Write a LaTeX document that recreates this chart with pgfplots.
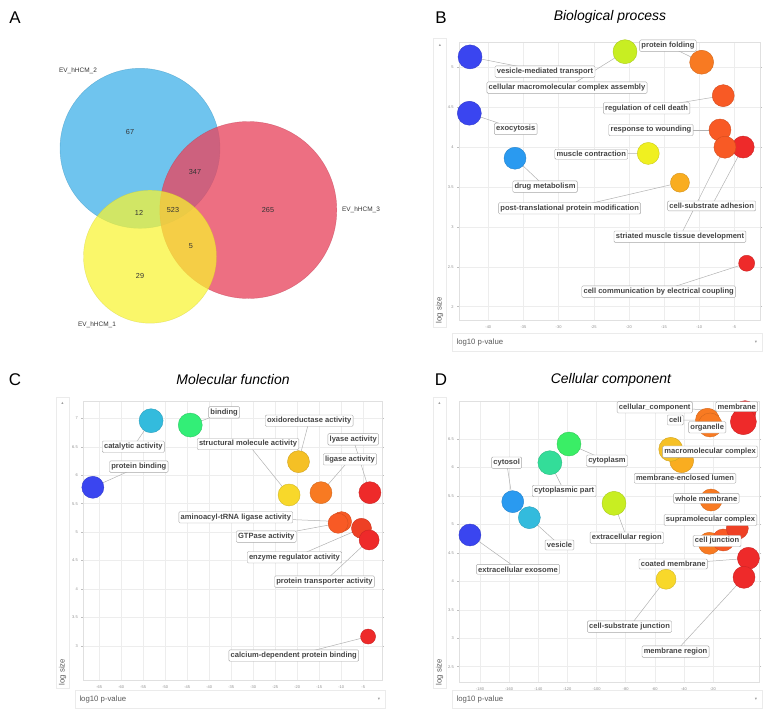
\documentclass[border=0pt]{standalone}
\usepackage{fontspec}
\setmainfont{Liberation Sans}
\newfontfamily\symfont{DejaVu Sans}
\usepackage{pgfplots}
\pgfplotsset{compat=1.18}

\definecolor{cblue}{HTML}{3A45F0}
\definecolor{clblue}{HTML}{2A9AF0}
\definecolor{ccyan}{HTML}{33BBDD}
\definecolor{cgreen}{HTML}{33EE77}
\definecolor{cgreen2}{HTML}{3AEE66}
\definecolor{cteal}{HTML}{33DD99}
\definecolor{cygreen}{HTML}{C8EE22}
\definecolor{cyellow}{HTML}{F0F020}
\definecolor{cyellow2}{HTML}{F8D82A}
\definecolor{cgold}{HTML}{F9AD20}
\definecolor{cgold2}{HTML}{F5C025}
\definecolor{corange}{HTML}{F87A22}
\definecolor{cored}{HTML}{F85A25}
\definecolor{cred}{HTML}{EE2A2A}
\definecolor{cred2}{HTML}{EE4025}
\definecolor{vblue}{HTML}{3FB0E8}
\definecolor{vred}{HTML}{E8465F}
\definecolor{vyellow}{HTML}{F8F430}

\tikzset{
  labbox/.style={fill=white, draw=black!35, rounded corners=1.2bp, inner xsep=1.8bp,
    inner ysep=2.2bp, line width=0.4bp, font=\fontsize{7.6}{8.5}\selectfont\bfseries,
    text=black!73},
  ptitle/.style={font=\fontsize{14}{14}\selectfont\itshape},
  pletter/.style={font=\fontsize{17}{17}\selectfont},
  vtext/.style={font=\fontsize{7.3}{7.5}\selectfont, text=black!80},
  side/.style={font=\fontsize{7.8}{8}\selectfont, text=black!65},
  arr/.style={font=\symfont\fontsize{4.5}{5}\selectfont, text=black!40},
}

\pgfplotsset{
  bubbleaxis/.style={
    scale only axis, anchor=north west, clip mode=individual,
    axis line style={draw=black!12},
    grid=major, major grid style={draw=black!7, line width=0.4bp},
    tick label style={font=\fontsize{4}{4}\selectfont, text=black!45},
    /pgf/number format/assume math mode=true,
    xtick style={draw=none},
    ytick style={draw=black!25, line width=0.4bp},
    tick align=outside, major tick length=2bp,
  },
  % second axis on the same box, only for the text boxes (drawn above the bubbles)
  overlay axis/.style={scale only axis, anchor=north west, hide axis, clip=false},
}

% bubble: x, y, radius (bp), colour
\newcommand{\bub}[4]{\addplot[only marks, mark=*, mark size=#3bp,
  mark options={fill=#4, draw=#4!85!black, line width=0.4bp}] coordinates {(#1,#2)};}
% leader line from bubble to label
\newcommand{\lead}[4]{\addplot[draw=black!30, line width=0.5bp, no marks] coordinates {(#1,#2) (#3,#4)};}
\newcommand{\lab}[3]{\node[labbox] at (axis cs:#1,#2) {#3};}

\begin{document}
\begin{tikzpicture}
\useasboundingbox (0,0) rectangle (766bp,-713bp);

% ---------------- A: Venn ----------------
\begin{axis}[at={(0bp,0bp)}, anchor=north west, scale only axis,
  width=383bp, height=360bp, hide axis, clip=false,
  xmin=0, xmax=383, ymin=0, ymax=360, y dir=reverse]
  \addplot[only marks, mark=*, mark size=80bp,
    mark options={fill=vblue, fill opacity=0.75, draw=vblue!80!black, draw opacity=0.5}]
    coordinates {(140,148.3)};
  \addplot[only marks, mark=*, mark size=88.5bp,
    mark options={fill=vred, fill opacity=0.78, draw=vred!80!black, draw opacity=0.5}]
    coordinates {(248.3,210)};
  \addplot[only marks, mark=*, mark size=66.5bp,
    mark options={fill=vyellow, fill opacity=0.72, draw=vyellow!80!black, draw opacity=0.4}]
    coordinates {(150,256.7)};
\end{axis}
\begin{axis}[overlay axis, at={(0bp,0bp)}, width=383bp, height=360bp,
  xmin=0, xmax=383, ymin=0, ymax=360, y dir=reverse]
  \node[vtext] at (axis cs:130,132) {67};
  \node[vtext] at (axis cs:195,172) {347};
  \node[vtext] at (axis cs:139,213) {12};
  \node[vtext] at (axis cs:173,210) {523};
  \node[vtext] at (axis cs:268,210) {265};
  \node[vtext] at (axis cs:191,246) {5};
  \node[vtext] at (axis cs:140,276) {29};
  \node[vtext, font=\fontsize{6.5}{7}\selectfont] at (axis cs:78,71) {EV\_hHCM\_2};
  \node[vtext, font=\fontsize{6.5}{7}\selectfont] at (axis cs:361,210) {EV\_hHCM\_3};
  \node[vtext, font=\fontsize{6.5}{7}\selectfont] at (axis cs:97,325) {EV\_hHCM\_1};
\end{axis}

% ---------------- B: Biological process ----------------
\begin{axis}[bubbleaxis, at={(459bp,-41.7bp)}, width=301bp, height=278.3bp,
  xmin=-44.17, xmax=-1.34, ymin=1.833, ymax=5.32,
  xtick={-40,-35,...,-5}, ytick={2,2.5,...,5}]
  \lead{-42.6}{5.13}{-31.93}{4.945}
  \lead{-20.55}{5.195}{-28.8}{4.744}
  \lead{-9.64}{5.063}{-14.44}{5.27}
  \lead{-6.57}{4.644}{-17.47}{4.486}
  \lead{-42.7}{4.424}{-36.1}{4.227}
  \lead{-7.04}{4.214}{-16.86}{4.214}
  \lead{-6.33}{3.998}{-12.73}{2.877}
  \lead{-3.73}{4.0}{-8.22}{3.262}
  \lead{-17.24}{3.92}{-25.35}{3.91}
  \lead{-36.2}{3.86}{-31.93}{3.504}
  \lead{-12.73}{3.554}{-28.42}{3.233}
  \lead{-3.24}{2.544}{-15.76}{2.188}
  \bub{-42.6}{5.13}{12}{cblue}
  \bub{-20.55}{5.195}{12}{cygreen}
  \bub{-9.64}{5.063}{12}{corange}
  \bub{-6.57}{4.644}{11}{cored}
  \bub{-42.7}{4.424}{12}{cblue}
  \bub{-7.04}{4.214}{11}{cored}
  \bub{-3.73}{4.0}{11}{cred}
  \bub{-6.33}{3.998}{11}{cored}
  \bub{-17.24}{3.92}{11}{cyellow}
  \bub{-36.2}{3.86}{11}{clblue}
  \bub{-12.73}{3.554}{9.5}{cgold}
  \bub{-3.24}{2.544}{8}{cred}
\end{axis}
\begin{axis}[overlay axis, at={(459bp,-41.7bp)}, width=301bp, height=278.3bp,
  xmin=-44.17, xmax=-1.34, ymin=1.833, ymax=5.32]
  \lab{-14.44}{5.27}{protein folding}
  \lab{-31.93}{4.945}{vesicle-mediated transport}
  \lab{-28.8}{4.744}{cellular macromolecular complex assembly}
  \lab{-17.47}{4.486}{regulation of cell death}
  \lab{-36.1}{4.227}{exocytosis}
  \lab{-16.86}{4.214}{response to wounding}
  \lab{-25.35}{3.91}{muscle contraction}
  \lab{-31.93}{3.504}{drug metabolism}
  \lab{-28.42}{3.233}{post-translational protein modification}
  \lab{-8.22}{3.262}{cell-substrate adhesion}
  \lab{-12.73}{2.877}{striated muscle tissue development}
  \lab{-15.76}{2.188}{cell communication by electrical coupling}
\end{axis}

% ---------------- C: Molecular function ----------------
\begin{axis}[bubbleaxis, at={(83.3bp,-400.7bp)}, width=298.4bp, height=279.3bp,
  xmin=-68.6, xmax=-0.8, ymin=2.40, ymax=7.31,
  xtick={-65,-60,...,-5}, ytick={3,3.5,...,7}]
  \lead{-53.2}{6.958}{-57.24}{6.501}
  \lead{-44.3}{6.882}{-36.6}{7.105}
  \lead{-66.43}{5.788}{-55.99}{6.15}
  \lead{-19.71}{6.238}{-17.28}{6.958}
  \lead{-21.85}{5.653}{-31.17}{6.549}
  \lead{-14.6}{5.693}{-8.02}{6.28}
  \lead{-3.48}{5.693}{-7.27}{6.631}
  \lead{-9.92}{5.184}{-33.94}{5.261}
  \lead{-10.7}{5.155}{-27.04}{4.92}
  \lead{-5.4}{5.067}{-20.62}{4.558}
  \lead{-3.66}{4.862}{-13.81}{4.13}
  \lead{-3.9}{3.164}{-20.78}{2.83}
  \bub{-53.2}{6.958}{12}{ccyan}
  \bub{-44.3}{6.882}{12}{cgreen}
  \bub{-66.43}{5.788}{11}{cblue}
  \bub{-19.71}{6.238}{11}{cgold2}
  \bub{-21.85}{5.653}{11}{cyellow2}
  \bub{-14.6}{5.693}{11}{corange}
  \bub{-3.48}{5.693}{11}{cred}
  \bub{-9.92}{5.184}{10}{cored}
  \bub{-10.7}{5.155}{10}{cored}
  \bub{-5.4}{5.067}{10}{cred2}
  \bub{-3.66}{4.862}{10}{cred}
  \bub{-3.9}{3.164}{7.5}{cred}
\end{axis}
\begin{axis}[overlay axis, at={(83.3bp,-400.7bp)}, width=298.4bp, height=279.3bp,
  xmin=-68.6, xmax=-0.8, ymin=2.40, ymax=7.31]
  \lab{-57.24}{6.501}{catalytic activity}
  \lab{-36.6}{7.105}{binding}
  \lab{-55.99}{6.15}{protein binding}
  \lab{-17.28}{6.958}{oxidoreductase activity}
  \lab{-31.17}{6.549}{structural molecule activity}
  \lab{-8.02}{6.28}{ligase activity}
  \lab{-7.27}{6.631}{lyase activity}
  \lab{-33.94}{5.261}{aminoacyl-tRNA ligase activity}
  \lab{-27.04}{4.92}{GTPase activity}
  \lab{-20.62}{4.558}{enzyme regulator activity}
  \lab{-13.81}{4.13}{protein transporter activity}
  \lab{-20.78}{2.83}{calcium-dependent protein binding}
\end{axis}

% ---------------- D: Cellular component ----------------
\begin{axis}[bubbleaxis, at={(459.3bp,-400.7bp)}, width=300bp, height=281bp,
  xmin=-194.2, xmax=11.8, ymin=2.236, ymax=7.173,
  xtick={-180,-160,...,-20}, ytick={2.5,3,...,6.5}]
  \lead{2.0}{6.98}{-60.0}{7.057}
  \lead{0.86}{6.804}{-3.7}{7.067}
  \lead{-23.8}{6.83}{-45.86}{6.834}
  \lead{-49.0}{6.319}{-22.0}{6.277}
  \lead{-41.5}{6.119}{-39.2}{5.81}
  \lead{-21.35}{5.428}{-24.57}{5.458}
  \lead{-3.3}{4.931}{-21.7}{5.077}
  \lead{-12.9}{4.726}{-17.2}{4.708}
  \lead{4.3}{4.404}{-47.3}{4.304}
  \lead{1.3}{4.07}{-45.73}{2.764}
  \lead{-52.25}{4.036}{-77.32}{3.203}
  \lead{-87.97}{5.37}{-79.2}{4.766}
  \lead{-118.9}{6.412}{-92.78}{6.119}
  \lead{-132.0}{6.084}{-122.2}{5.587}
  \lead{-157.5}{5.399}{-161.7}{6.084}
  \lead{-146.1}{5.118}{-125.4}{4.638}
  \lead{-186.9}{4.814}{-153.9}{4.211}
  \bub{2.0}{6.98}{11}{cred}
  \bub{0.86}{6.804}{13}{cred}
  \bub{-23.8}{6.83}{12}{corange}
  \bub{-22.0}{6.746}{12}{corange}
  \bub{-41.5}{6.119}{12}{cgold}
  \bub{-49.0}{6.319}{12}{cgold2}
  \bub{-21.35}{5.428}{11}{corange}
  \bub{-22.5}{4.668}{11}{corange}
  \bub{-12.9}{4.726}{11}{cored}
  \bub{-3.3}{4.931}{11}{cred2}
  \bub{4.3}{4.404}{11}{cred}
  \bub{1.3}{4.07}{11}{cred}
  \bub{-52.25}{4.036}{10}{cyellow2}
  \bub{-87.97}{5.37}{12}{cygreen}
  \bub{-118.9}{6.412}{12}{cgreen2}
  \bub{-132.0}{6.084}{12}{cteal}
  \bub{-157.5}{5.399}{11}{clblue}
  \bub{-146.1}{5.118}{11}{ccyan}
  \bub{-186.9}{4.814}{11}{cblue}
\end{axis}
\begin{axis}[overlay axis, at={(459.3bp,-400.7bp)}, width=300bp, height=281bp,
  xmin=-194.2, xmax=11.8, ymin=2.236, ymax=7.173]
  \lab{-60.0}{7.057}{cellular\_component}
  \lab{-3.7}{7.067}{membrane}
  \lab{-45.86}{6.834}{cell}
  \lab{-23.96}{6.706}{organelle}
  \lab{-22.0}{6.277}{macromolecular complex}
  \lab{-39.2}{5.81}{membrane-enclosed lumen}
  \lab{-24.57}{5.458}{whole membrane}
  \lab{-21.7}{5.077}{supramolecular complex}
  \lab{-17.2}{4.708}{cell junction}
  \lab{-47.3}{4.304}{coated membrane}
  \lab{-45.73}{2.764}{membrane region}
  \lab{-77.32}{3.203}{cell-substrate junction}
  \lab{-79.2}{4.766}{extracellular region}
  \lab{-92.78}{6.119}{cytoplasm}
  \lab{-122.2}{5.587}{cytoplasmic part}
  \lab{-161.7}{6.084}{cytosol}
  \lab{-125.4}{4.638}{vesicle}
  \lab{-153.9}{4.211}{extracellular exosome}
\end{axis}

% ---------------- titles, letters, selectors ----------------
\node[pletter] at (15bp,-18bp) {A};
\node[pletter] at (441bp,-18bp) {B};
\node[pletter] at (15bp,-380bp) {C};
\node[pletter] at (441bp,-380bp) {D};
\node[ptitle] at (610bp,-17bp) {Biological process};
\node[ptitle] at (233bp,-380bp) {Molecular function};
\node[ptitle] at (611bp,-380bp) {Cellular component};

% B selectors
\draw[black!8, line width=0.4bp] (452bp,-333bp) rectangle (762bp,-351bp);
\node[side, anchor=west] at (453bp,-342bp) {log10 p-value};
\node[arr] at (756bp,-342bp) {▾};
\draw[black!8, line width=0.4bp] (433bp,-38bp) rectangle (446bp,-327bp);
\node[side, rotate=90] at (439.5bp,-310bp) {log size};
\node[arr] at (440bp,-45bp) {▴};
% C selectors
\draw[black!8, line width=0.4bp] (75bp,-690bp) rectangle (385bp,-708bp);
\node[side, anchor=west] at (76bp,-699bp) {log10 p-value};
\node[arr] at (379bp,-699bp) {▾};
\draw[black!8, line width=0.4bp] (56bp,-397bp) rectangle (69bp,-688bp);
\node[side, rotate=90] at (62.5bp,-672bp) {log size};
\node[arr] at (62.5bp,-403bp) {▴};
% D selectors
\draw[black!8, line width=0.4bp] (452bp,-690bp) rectangle (762bp,-708bp);
\node[side, anchor=west] at (453bp,-699bp) {log10 p-value};
\node[arr] at (756bp,-699bp) {▾};
\draw[black!8, line width=0.4bp] (433bp,-397bp) rectangle (446bp,-688bp);
\node[side, rotate=90] at (439.5bp,-672bp) {log size};
\node[arr] at (439.5bp,-403bp) {▴};
\end{tikzpicture}
\end{document}
